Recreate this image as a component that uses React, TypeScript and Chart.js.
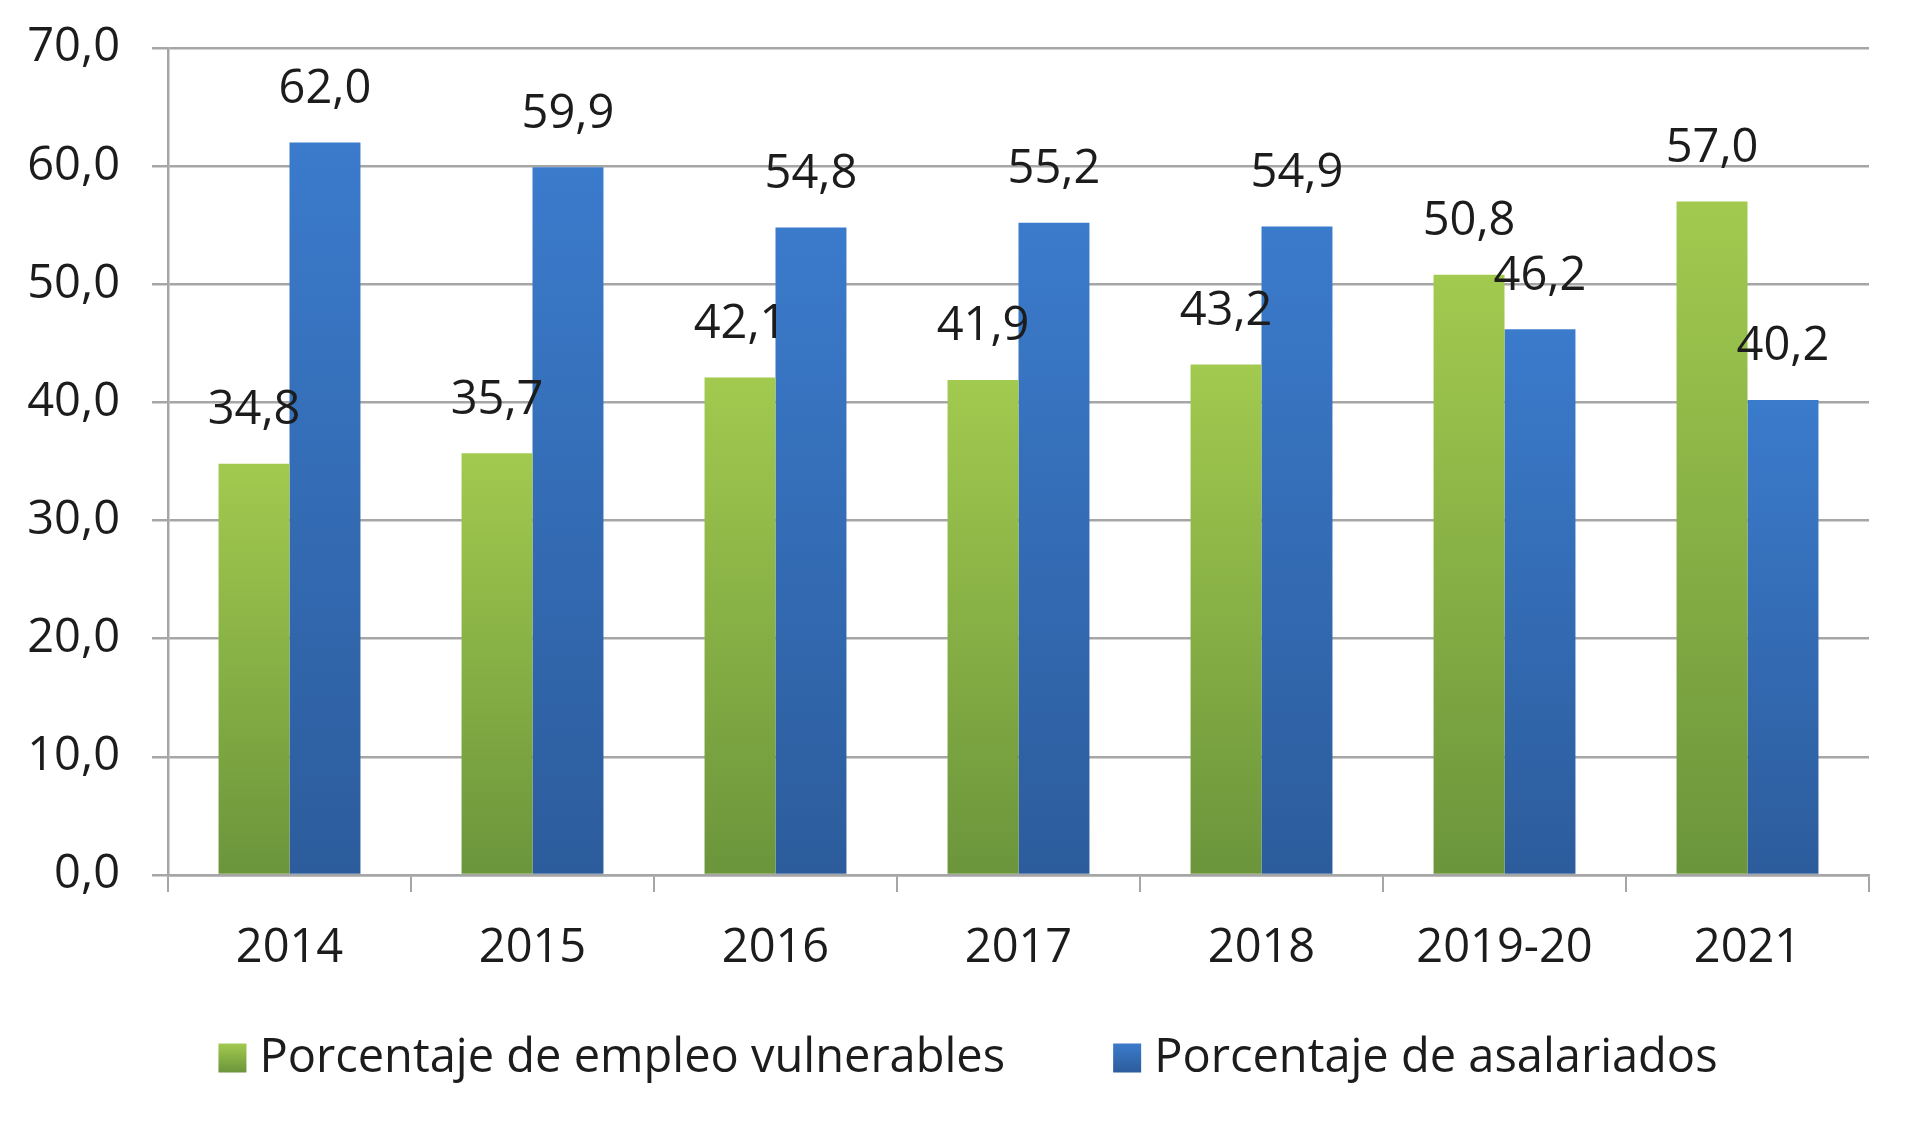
import React, { useEffect, useRef } from "react";
import { Chart, registerables } from "chart.js";

Chart.register(...registerables);

const categories = ["2014", "2015", "2016", "2017", "2018", "2019-20", "2021"];
const vulnerables = [34.8, 35.7, 42.1, 41.9, 43.2, 50.8, 57.0];
const asalariados = [62.0, 59.9, 54.8, 55.2, 54.9, 46.2, 40.2];
const seriesNames = ["Porcentaje de empleo vulnerables", "Porcentaje de asalariados"];
const yTicks = [0, 10, 20, 30, 40, 50, 60, 70];

const FONT = "'Open Sans', 'Liberation Sans', sans-serif";
const FONT_SIZE = 47;
const TEXT_COLOR = "#1c1c1c";
const GRID_COLOR = "#a6a6a6";

const GREEN_TOP = "#a2ca4f";
const GREEN_BOTTOM = "#6b953b";
const BLUE_TOP = "#3b7bcc";
const BLUE_BOTTOM = "#2c5c9c";

const fmt = (v: number) => v.toFixed(1).replace(".", ",");

function barGradient(top: string, bottom: string) {
  return (ctx: any) => {
    const chart = ctx.chart;
    const y = chart.scales && chart.scales.y;
    if (!y || ctx.type !== "data") return top;
    const v = ctx.raw as number;
    const y0 = y.getPixelForValue(0);
    const y1 = y.getPixelForValue(v);
    if (!isFinite(y0) || !isFinite(y1) || y0 === y1) return top;
    const g = chart.ctx.createLinearGradient(0, y1, 0, y0);
    g.addColorStop(0, top);
    g.addColorStop(1, bottom);
    return g;
  };
}

const dataLabelPlugin = {
  id: "dataLabels",
  afterDatasetsDraw(chart: any) {
    const ctx = chart.ctx;
    ctx.save();
    ctx.font = `${FONT_SIZE}px ${FONT}`;
    ctx.fillStyle = TEXT_COLOR;
    ctx.textAlign = "center";
    ctx.textBaseline = "middle";
    chart.data.datasets.forEach((ds: any, i: number) => {
      const meta = chart.getDatasetMeta(i);
      meta.data.forEach((el: any, j: number) => {
        ctx.fillText(fmt(ds.data[j]), el.x, el.y - 53);
      });
    });
    ctx.restore();
  },
};

const legendPlugin = {
  id: "customLegend",
  afterDraw(chart: any) {
    const ctx = chart.ctx;
    ctx.save();
    ctx.font = `${FONT_SIZE}px ${FONT}`;
    ctx.textBaseline = "middle";
    ctx.textAlign = "left";
    const boxW = 28;
    const boxH = 29;
    const gap = 13;
    const itemGap = 108;
    const cy = 1058;
    const widths = chart.data.datasets.map((ds: any) => ctx.measureText(ds.label).width);
    const total =
      widths.reduce((a: number, w: number) => a + boxW + gap + w, 0) + itemGap * (widths.length - 1);
    let x = chart.width / 2 + 8 - total / 2;
    const tops = [GREEN_TOP, BLUE_TOP];
    const bottoms = [GREEN_BOTTOM, BLUE_BOTTOM];
    chart.data.datasets.forEach((ds: any, i: number) => {
      const g = ctx.createLinearGradient(0, cy - boxH / 2, 0, cy + boxH / 2);
      g.addColorStop(0, tops[i]);
      g.addColorStop(1, bottoms[i]);
      ctx.fillStyle = g;
      ctx.fillRect(x, cy - boxH / 2, boxW, boxH);
      ctx.fillStyle = TEXT_COLOR;
      ctx.fillText(ds.label, x + boxW + gap, cy + 1);
      x += boxW + gap + widths[i] + itemGap;
    });
    ctx.restore();
  },
};

export default function App() {
  const canvasRef = useRef<HTMLCanvasElement | null>(null);

  useEffect(() => {
    document.body.style.margin = "0";
    const canvas = canvasRef.current;
    if (!canvas) return;
    const chart = new Chart(canvas, {
      type: "bar",
      data: {
        labels: categories,
        datasets: [
          {
            label: seriesNames[0],
            data: vulnerables,
            backgroundColor: barGradient(GREEN_TOP, GREEN_BOTTOM),
            categoryPercentage: 0.584,
            barPercentage: 1.0,
          },
          {
            label: seriesNames[1],
            data: asalariados,
            backgroundColor: barGradient(BLUE_TOP, BLUE_BOTTOM),
            categoryPercentage: 0.584,
            barPercentage: 1.0,
          },
        ],
      },
      options: {
        responsive: false,
        animation: false,
        devicePixelRatio: 1,
        layout: { padding: { top: 48, right: 51, left: 0, bottom: 0 } },
        plugins: {
          legend: { display: false },
          tooltip: { enabled: false },
        },
        scales: {
          x: {
            afterFit: (scale: any) => {
              scale.height = 250;
              scale.paddingLeft = 0;
              scale.paddingRight = 0;
            },
            grid: {
              display: true,
              drawOnChartArea: false,
              drawTicks: true,
              tickLength: 17,
              color: GRID_COLOR,
              lineWidth: 2,
            },
            border: { display: true, color: GRID_COLOR, width: 2.5 },
            ticks: {
              color: TEXT_COLOR,
              font: { family: FONT, size: FONT_SIZE },
              padding: 28,
              maxRotation: 0,
              autoSkip: false,
            },
          },
          y: {
            min: 0,
            max: 70,
            afterFit: (scale: any) => {
              scale.width = 168;
              scale.paddingTop = 0;
              scale.paddingBottom = 0;
            },
            afterBuildTicks: (scale: any) => {
              scale.ticks = yTicks.map((v) => ({ value: v }));
            },
            grid: {
              color: GRID_COLOR,
              lineWidth: 2.5,
              tickLength: 16,
              drawTicks: true,
            },
            border: { display: true, color: GRID_COLOR, width: 2.5 },
            ticks: {
              color: TEXT_COLOR,
              font: { family: FONT, size: FONT_SIZE },
              padding: 32,
              callback: (v: any) => fmt(Number(v)),
            },
          },
        },
      },
      plugins: [dataLabelPlugin, legendPlugin],
    });
    return () => chart.destroy();
  }, []);

  return <canvas ref={canvasRef} width={1920} height={1125} style={{ display: "block" }} />;
}
